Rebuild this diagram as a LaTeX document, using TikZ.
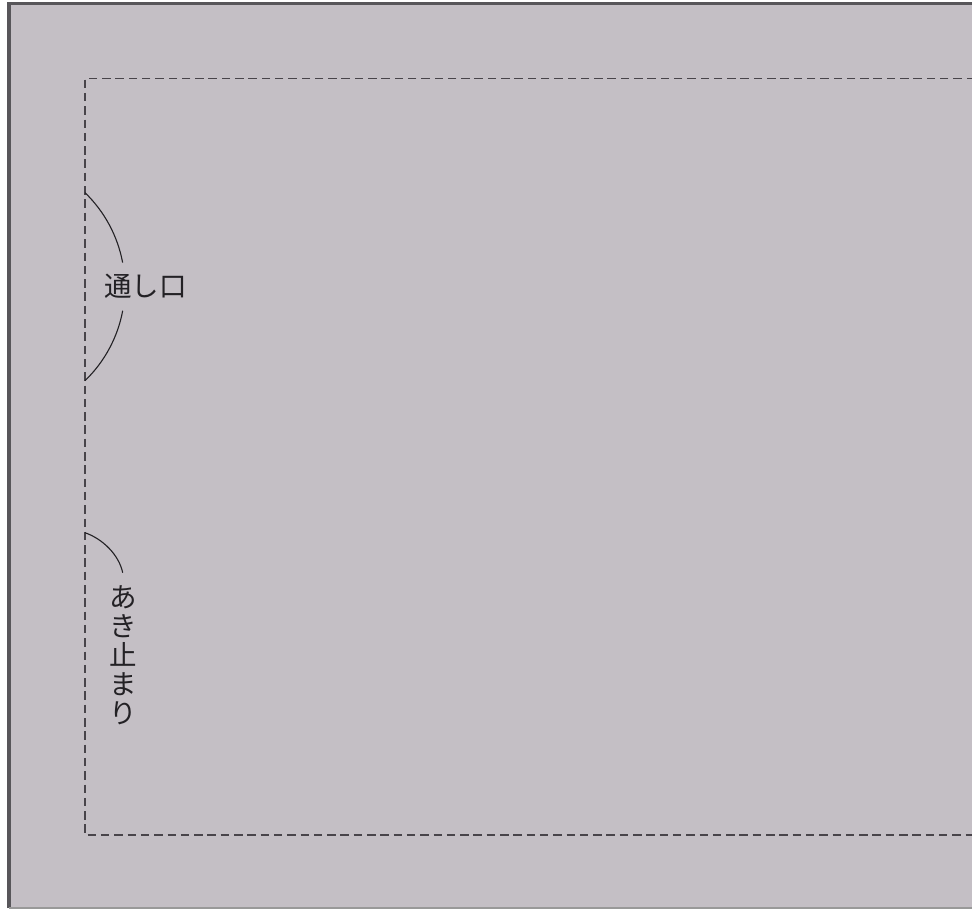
\documentclass[tikz,border=0pt]{standalone}
\usepackage{fontspec}
\newfontfamily\jpfont{Noto Sans CJK JP}
\definecolor{paper}{RGB}{196,191,197}
\definecolor{edge}{RGB}{88,86,90}
\definecolor{seam}{RGB}{72,68,74}
\definecolor{ink}{RGB}{35,33,37}
\tikzset{
  seamline/.style={draw=seam, line width=1.1pt, dash pattern=on 8.5pt off 4.8pt},
  bracket/.style={draw=ink, line width=1.1pt},
  label/.style={text=ink, inner sep=0pt, font=\jpfont\fontsize{27.5}{29}\selectfont}
}
\begin{document}
\begin{tikzpicture}[x=1pt,y=1pt]
\useasboundingbox (0,0) rectangle (972,-910);
% cloth
\fill[paper] (9,-3.5) rectangle (972,-908);
\draw[edge, line width=3.5pt] (9,-908) -- (9,-3.5) -- (972,-3.5);
\draw[gray!80, line width=1.2pt] (9,-908) -- (972,-908);
% seam line
\draw[seamline] (975,-78.5) -- (85,-78.5) -- (85,-835) -- (975,-835);
% labels
\node[label] (opening) at (145.5,-286) {通し口};
\node[label, align=center] (stop) at (123,-655) {あ\\き\\止\\ま\\り};
% bracket arcs
\coordinate (oa) at (85,-192.7);
\coordinate (ob) at (122.7,-310.7);
\coordinate (sa) at (85,-532.7);
\draw[bracket] (oa) arc[start angle=46, end angle=10.6, radius=130.6pt];
\draw[bracket] (ob) arc[start angle=-10.6, end angle=-46, radius=130.6pt];
\draw[bracket] (sa) .. controls (103,-539) and (119,-555) .. (122.7,-572.7);
\end{tikzpicture}
\end{document}
